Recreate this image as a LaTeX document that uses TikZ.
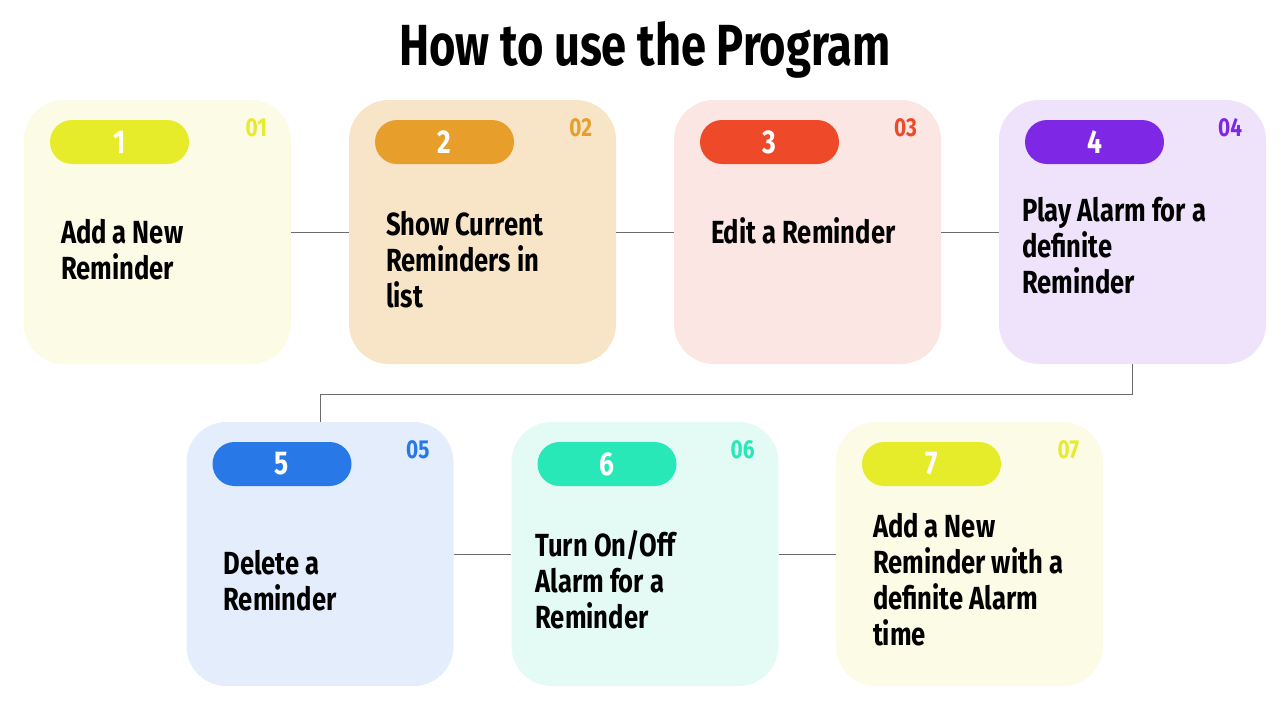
\documentclass[tikz,border=0pt]{standalone}
\usepackage{fontspec}
\newfontfamily\cardfont{Fira Sans}[FakeStretch=0.80]
\newfontfamily\titlefont{Fira Sans}[FakeStretch=0.78]
\usetikzlibrary{positioning,calc}

\definecolor{fg1}{HTML}{E6EB2A}
\definecolor{fg2}{HTML}{E89E2A}
\definecolor{fg3}{HTML}{EE4A2A}
\definecolor{fg4}{HTML}{7E28E6}
\definecolor{fg5}{HTML}{2878E8}
\definecolor{fg6}{HTML}{28E8B8}
\definecolor{fg7}{HTML}{E6EB2A}
\definecolor{bg1}{HTML}{FBFBE6}
\definecolor{bg2}{HTML}{F8E5C8}
\definecolor{bg3}{HTML}{FBE6E3}
\definecolor{bg4}{HTML}{EFE3FB}
\definecolor{bg5}{HTML}{E3EDFB}
\definecolor{bg6}{HTML}{E3FBF4}
\definecolor{bg7}{HTML}{FBFBE6}
\definecolor{linkgray}{HTML}{6B6B6B}

\tikzset{
  card/.style = {draw=none, rounded corners=40pt, inner sep=0pt,
    minimum width=267pt, minimum height=264pt},
  pill/.style = {draw=none, rounded corners=22pt, inner sep=0pt,
    minimum width=139pt, minimum height=44pt, text=white,
    font=\cardfont\bfseries\fontsize{33}{36}\selectfont},
  stepnum/.style = {inner sep=0pt, anchor=base east,
    font=\cardfont\bfseries\fontsize{26}{30}\selectfont},
  steptext/.style = {inner sep=0pt, anchor=base west, align=left,
    font=\cardfont\bfseries\fontsize{32}{36}\selectfont},
  link/.style = {draw=linkgray, line width=0.8pt},
}

\begin{document}
\begin{tikzpicture}[
    x = 1pt,
    y = -1pt,
    ]
    \useasboundingbox (0,0) rectangle (1287,705);
    % title
    \node[inner sep=0pt, anchor=base,
      font=\titlefont\bfseries\fontsize{58}{66}\selectfont]
      (title) at (645,65) {How to use the Program};
    % cards
    \foreach \i/\x/\y in {1/157.5/232, 2/482.5/232, 3/807.5/232, 4/1132.5/232,
      5/320/554, 6/645/554, 7/969.5/554}
    \node[card, fill=bg\i] (b\i) at (\x,\y) {};
    % connectors
    \draw[link] (b1.east) -- (b2.west);
    \draw[link] (b2.east) -- (b3.west);
    \draw[link] (b3.east) -- (b4.west);
    \draw[link] (b4.south) -- ++(0,30) -| (b5.north);
    \draw[link] (b5.east) -- (b6.west);
    \draw[link] (b6.east) -- (b7.west);
    % pills and numbers
    \foreach \i in {1,...,7} {
      \node[pill, fill=fg\i, below right=20pt and 26pt of b\i.north west]
        (p\i) {\i};
      \node[stepnum, text=fg\i] (n\i) at ($(b\i.north east)+(-24,37)$) {0\i};
    }
    % step texts (anchored at the last line)
    \node[steptext] (t1) at ($(b1.north west)+(37,180)$) {Add a New\\Reminder};
    \node[steptext] (t2) at ($(b2.north west)+(37,208)$)
      {Show Current\\Reminders in\\list};
    \node[steptext] (t3) at ($(b3.north west)+(37,144)$) {Edit a Reminder};
    \node[steptext] (t4) at ($(b4.north west)+(23,194)$)
      {Play Alarm for a\\definite\\Reminder};
    \node[steptext] (t5) at ($(b5.north west)+(37,189)$) {Delete a\\Reminder};
    \node[steptext] (t6) at ($(b6.north west)+(24,207)$)
      {Turn On/Off\\Alarm for a\\Reminder};
    \node[steptext] (t7) at ($(b7.north west)+(37,224)$)
      {Add a New\\Reminder with a\\definite Alarm\\time};
  \end{tikzpicture}
\end{document}
